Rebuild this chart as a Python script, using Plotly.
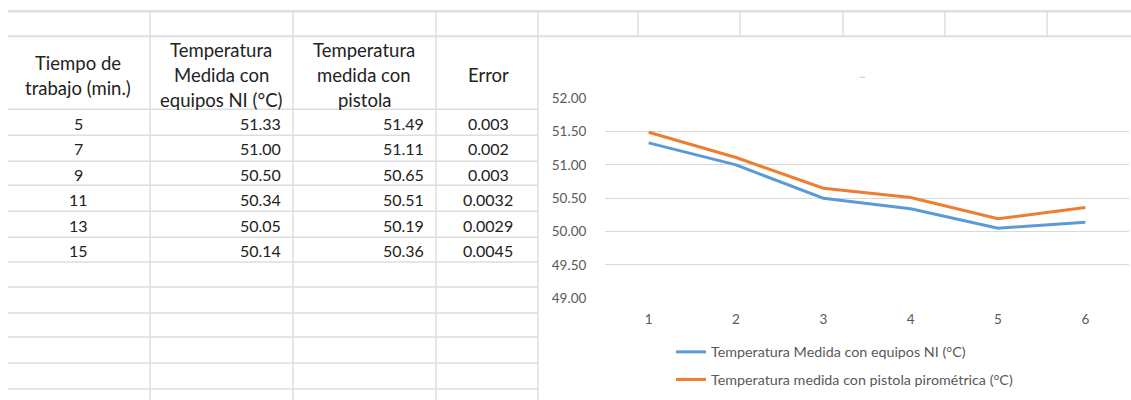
import plotly.graph_objects as go

# ---------------- data ----------------
tiempo = ["5", "7", "9", "11", "13", "15"]
temp_ni = [51.33, 51.00, 50.50, 50.34, 50.05, 50.14]
temp_pistola = [51.49, 51.11, 50.65, 50.51, 50.19, 50.36]
error = ["0.003", "0.002", "0.003", "0.0032", "0.0029", "0.0045"]
x_cats = [1, 2, 3, 4, 5, 6]
y_ticks = [49.0, 49.5, 50.0, 50.5, 51.0, 51.5, 52.0]
series_names = ["Temperatura Medida con equipos NI (°C)",
                "Temperatura medida con pistola pirométrica (°C)"]
header_lines = [["Tiempo de", "trabajo (min.)"],
                ["Temperatura", "Medida con", "equipos NI (°C)"],
                ["Temperatura", "medida con", "pistola"],
                ["Error"]]

# ---------------- layout helpers ----------------
W, H = 1131, 408
OFF, S = 7.7, 0.9615  # observed vertical offset / scale of the capture


def px(x):
    return x / W


def py(y):
    return 1 - ((y - OFF) / S) / H


GRID = "#dedede"
TXT = "#222222"
FONT = "Lato"

fig = go.Figure()
fig.add_trace(go.Scatter(x=x_cats, y=temp_ni, mode="lines", name=series_names[0],
                         line=dict(color="#5B9BD5", width=3), legendgroup="a"))
fig.add_trace(go.Scatter(x=x_cats, y=temp_pistola, mode="lines", name=series_names[1],
                         line=dict(color="#ED7D31", width=3), legendgroup="b"))

shapes = []


def hline(y, x0, x1, w=1.5, color=GRID):
    shapes.append(dict(type="line", xref="paper", yref="paper", x0=px(x0), x1=px(x1),
                       y0=py(y), y1=py(y), line=dict(color=color, width=w)))


def vline(x, y0, y1, w=1.5, color=GRID):
    shapes.append(dict(type="line", xref="paper", yref="paper", x0=px(x), x1=px(x),
                       y0=py(y0), y1=py(y1), line=dict(color=color, width=w)))


# spreadsheet grid
hline(11, 8, W, 2.5)
hline(36, 8, W, 2)
for y in [109, 135, 161, 185, 211, 237, 262, 287, 313, 337, 363, 389]:
    hline(y, 8, 538)
for x in [150, 293, 436, 538]:
    vline(x, 11, 400)
for x in [638, 740, 843, 945, 1047]:
    vline(x, 11, 36)
# tiny chart-title placeholder mark
shapes.append(dict(type="line", xref="paper", yref="paper", x0=px(860), x1=px(865),
                   y0=py(77), y1=py(77), line=dict(color="#c8c8c8", width=1)))

annotations = []


def txt(s, x, y, anchor="center", size=16):
    annotations.append(dict(text=s, x=px(x), y=py(y), xref="paper", yref="paper",
                            xanchor=anchor, yanchor="middle", showarrow=False,
                            font=dict(family=FONT, size=size, color=TXT)))


# header
col_centers = [78, 221, 364, 488]
header_y = {2: [63, 88], 3: [50, 75, 100], 1: [75]}
for c, lines in zip(col_centers, header_lines):
    for s, y in zip(lines, header_y[len(lines)]):
        txt(s, c, y, size=18.5)

row_y = [123, 148, 174, 199, 225, 250]
for i, y in enumerate(row_y):
    txt(tiempo[i], 78, y)
    txt(f"{temp_ni[i]:.2f}", 283, y, anchor="right")
    txt(f"{temp_pistola[i]:.2f}", 426, y, anchor="right")
    txt(error[i], 488, y)

fig.update_layout(
    width=W, height=H, autosize=False,
    margin=dict(l=0, r=0, t=0, b=0),
    paper_bgcolor="white", plot_bgcolor="white",
    shapes=shapes, annotations=annotations,
    showlegend=True,
    legend=dict(x=px(671), y=py(336), xanchor="left", yanchor="top",
                orientation="v", tracegroupgap=6, bgcolor="rgba(0,0,0,0)",
                font=dict(family=FONT, size=14.3, color="#595959")),
    xaxis=dict(domain=[px(605), px(1129)], range=[0.5, 6.5], tickvals=x_cats,
               showgrid=False, zeroline=False, showline=False,
               ticks="outside", ticklen=9, tickcolor="rgba(0,0,0,0)",
               tickfont=dict(family=FONT, size=13.5, color="#595959")),
    yaxis=dict(domain=[py(298), py(98)], range=[49, 52], tickvals=y_ticks,
               tickformat=".2f", showgrid=True, gridcolor="#d9d9d9", gridwidth=1,
               zeroline=False, showline=False,
               ticks="outside", ticklen=15, tickcolor="rgba(0,0,0,0)",
               tickfont=dict(family=FONT, size=13.5, color="#595959")),
)

fig.write_html("out.html", config={"displayModeBar": False},
               post_script="document.body.style.margin='0';"
                           "document.body.style.overflow='hidden';")
